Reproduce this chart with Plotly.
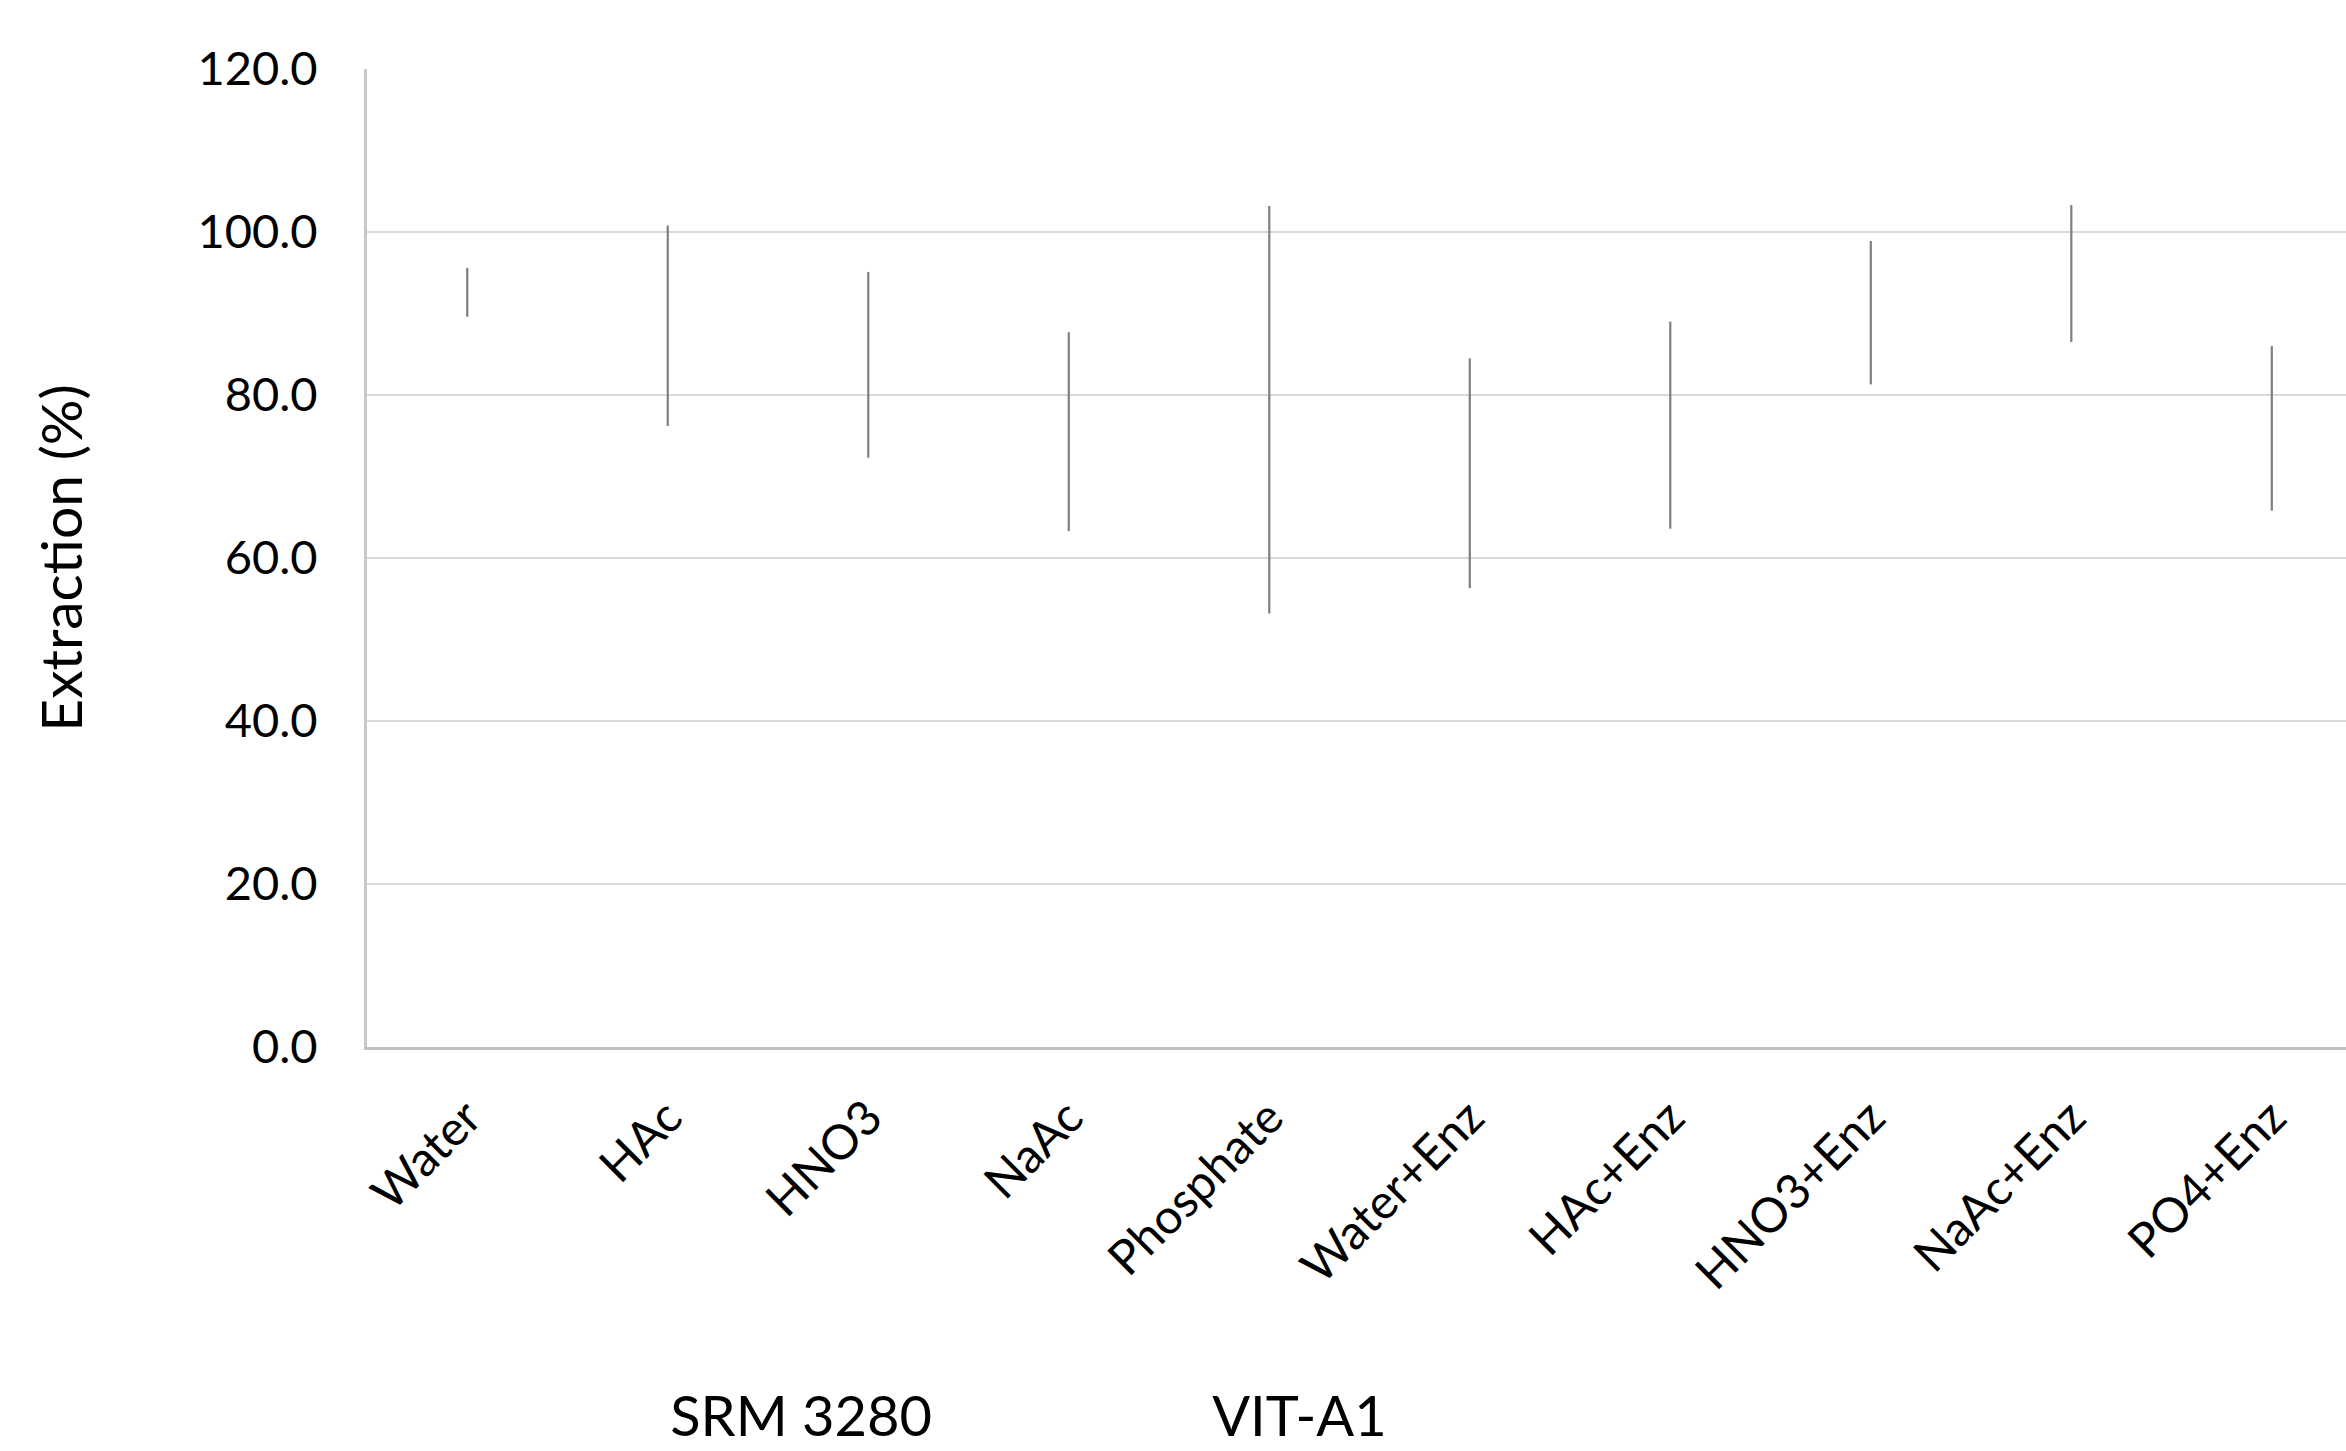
import plotly.graph_objects as go

# Extraction methods (x categories)
categories = ["Water", "HAc", "HNO3", "NaAc", "Phosphate",
              "Water+Enz", "HAc+Enz", "HNO3+Enz", "NaAc+Enz", "PO4+Enz"]

# Mean extraction (%) and spread (+/-) for each method
srm_mean = [92.6, 88.5, 83.7, 75.5, 78.2, 70.4, 76.3, 90.1, 94.9, 75.9]
srm_err = [3.0, 12.3, 11.4, 12.2, 25.0, 14.1, 12.7, 8.8, 8.4, 10.1]

series_names = ["SRM 3280", "VIT-A1"]

y_ticks = [0, 20, 40, 60, 80, 100, 120]

FONT = "Lato"
W, H = 2346, 1451

fig = go.Figure()

fig.add_trace(go.Scatter(
    x=categories,
    y=srm_mean,
    name=series_names[0],
    mode="markers",
    marker=dict(color="rgba(0,0,0,0)", size=1),
    error_y=dict(type="data", array=srm_err, symmetric=True,
                 color="#7f7f7f", thickness=2.2, width=0),
    hoverinfo="skip",
))

fig.add_trace(go.Scatter(
    x=[None],
    y=[None],
    name=series_names[1],
    mode="markers",
    marker=dict(color="rgba(0,0,0,0)", size=1),
    hoverinfo="skip",
))

fig.update_layout(
    width=W,
    height=H,
    paper_bgcolor="white",
    plot_bgcolor="white",
    margin=dict(l=367, r=0, t=69, b=404, autoexpand=False),
    font=dict(family=FONT, color="black"),
    showlegend=True,
    legend=dict(
        orientation="h",
        x=0.133, xanchor="left",
        y=-0.376, yanchor="middle",
        font=dict(family=FONT, size=56, color="black"),
        itemwidth=30,
        entrywidth=497,
        bgcolor="rgba(0,0,0,0)",
    ),
)

fig.update_xaxes(
    type="category",
    categoryorder="array",
    categoryarray=categories,
    range=[-0.5, 9.37],
    tickangle=-45,
    tickfont=dict(family=FONT, size=48, color="black"),
    showgrid=False,
    showline=True,
    linecolor="#bfbfbf",
    linewidth=3,
    ticks="",
    ticklabelstandoff=20,
    zeroline=False,
)

fig.update_yaxes(
    range=[0, 120],
    tickvals=y_ticks,
    tickformat=".1f",
    tickfont=dict(family=FONT, size=47, color="black"),
    showgrid=True,
    gridcolor="#d9d9d9",
    gridwidth=2,
    showline=True,
    linecolor="#c8c8c8",
    linewidth=3,
    ticks="",
    ticklabelstandoff=37,
    zeroline=False,
    title=dict(text="Extraction (%)", font=dict(family=FONT, size=57, color="black"),
               standoff=97),
)

fig.write_html("out.html")
